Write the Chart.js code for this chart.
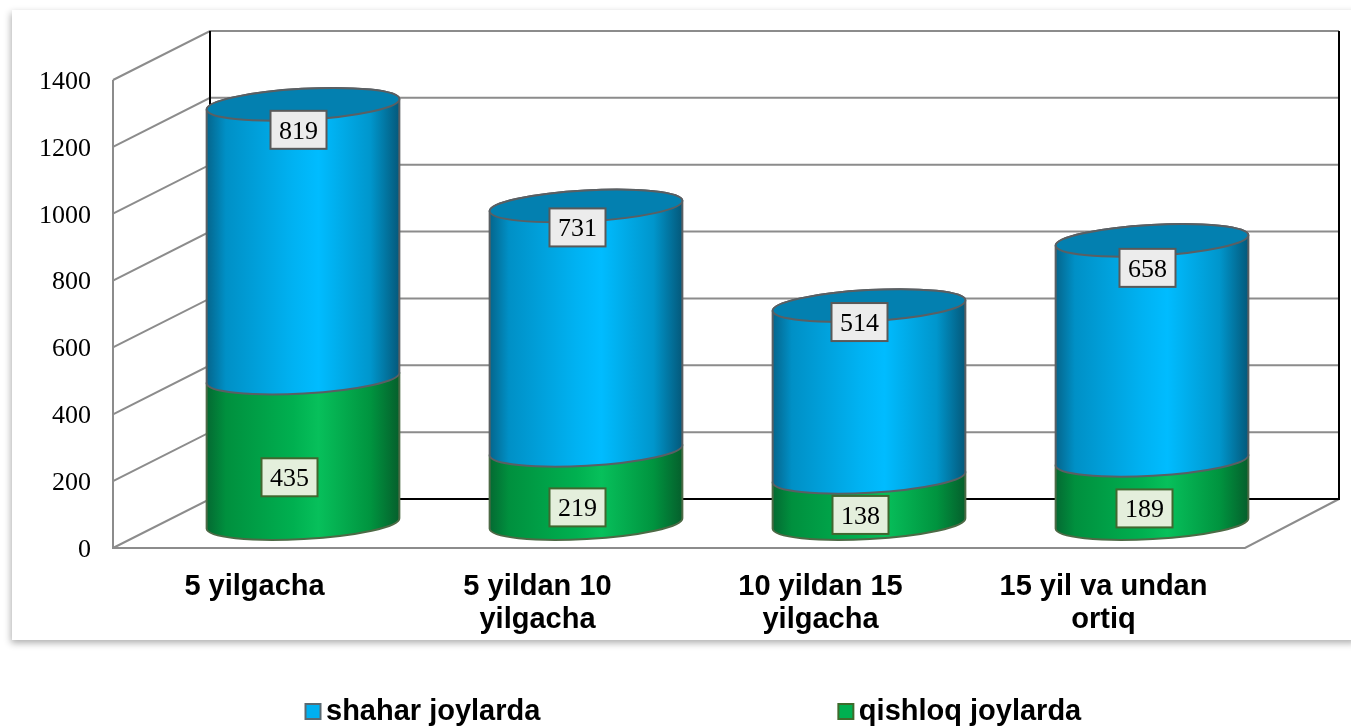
<!DOCTYPE html>
<html>
<head>
<meta charset="utf-8">
<title>Chart</title>
<script src="https://cdn.jsdelivr.net/npm/chart.js@4/dist/chart.umd.min.js"></script>
<style>
    html, body { margin: 0; padding: 0; background: #fff; }
    #wrap { position: relative; width: 1351px; height: 726px; overflow: hidden; }
    #card { position: absolute; left: 12px; top: 10px; width: 1345px; height: 630px; background: #fff;
        box-shadow: -1px 3px 7px rgba(0, 0, 0, 0.32); }
    canvas { position: absolute; left: 0; top: 0; }
</style>
</head>
<body>
<div id="wrap">
    <div id="card"></div>
    <canvas id="chart" width="1351" height="726"></canvas>
</div>
<script>
const categories = [['5 yilgacha'], ['5 yildan 10', 'yilgacha'], ['10 yildan 15', 'yilgacha'], ['15 yil va undan', 'ortiq']];
const qishloq = [435, 219, 138, 189];
const shahar = [819, 731, 514, 658];
const yTicksMax = 1400;
const yTickStep = 200;

// hand placed labels in the original, offsets from the bar anchor
const qishloqLabelNudge = [[35, 2], [40, -4], [40, -10], [41, -8]];
const shaharLabelNudge = [[44, 1], [40, -3], [39, -8], [44, 3]];

const DEPTH_X = 97;
const DEPTH_Y = -49;

const SERIF = '"Liberation Serif", serif';
const SANS = '"Liberation Sans", sans-serif';

const blueStops = [[0, '#05658c'], [0.1, '#0090c6'], [0.45, '#00b2f2'], [0.58, '#00bcff'], [0.85, '#0096cc'], [1, '#04587a']];
const greenStops = [[0, '#046a32'], [0.1, '#00903e'], [0.45, '#00b050'], [0.58, '#07c05b'], [0.85, '#00943f'], [1, '#055f2c']];

function cylinderPath(ctx, cx, topY, botY, rx, ry, rot) {
    ctx.beginPath();
    ctx.ellipse(cx, botY, rx, ry, rot, Math.PI, 0, true);
    ctx.ellipse(cx, topY, rx, ry, rot, 0, Math.PI, true);
    ctx.closePath();
}

function drawCylinder(ctx, bar, stops, edge, capColor) {
    const cx = bar.x + DEPTH_X / 2;
    const topY = bar.y + DEPTH_Y / 2;
    const botY = bar.base + DEPTH_Y / 2;
    const rx = bar.width / 2;
    const ry = 15.5;
    const rot = -0.055;

    const g = ctx.createLinearGradient(cx - rx, 0, cx + rx, 0);
    stops.forEach((s) => g.addColorStop(s[0], s[1]));

    ctx.save();
    cylinderPath(ctx, cx, topY, botY, rx, ry, rot);
    ctx.fillStyle = g;
    ctx.fill();
    ctx.lineWidth = 2;
    ctx.strokeStyle = edge;
    ctx.stroke();
    if (capColor) {
        ctx.beginPath();
        ctx.ellipse(cx, topY, rx, ry, rot, 0, Math.PI * 2);
        ctx.fillStyle = capColor;
        ctx.fill();
        ctx.stroke();
    }
    ctx.restore();
}

function drawValueBox(ctx, x, y, text, fill, edge) {
    ctx.save();
    ctx.fillStyle = fill;
    ctx.strokeStyle = edge;
    ctx.lineWidth = 2;
    ctx.fillRect(x - 28, y - 19, 56, 38);
    ctx.strokeRect(x - 28, y - 19, 56, 38);
    ctx.fillStyle = '#000';
    ctx.font = '26px ' + SERIF;
    ctx.textAlign = 'center';
    ctx.textBaseline = 'middle';
    ctx.fillText(text, x, y + 2);
    ctx.restore();
}

const cylinderPlugin = {
    id: 'cylinders',
    beforeInit(chart) {
        // the legend needs wide gaps between items, but not that much height
        const fit = chart.legend.fit;
        chart.legend.fit = function () {
            const max = this.maxWidth;
            this.maxWidth = 3000;
            fit.call(this);
            this.maxWidth = max;
            this.width = max;
            this.height = 70;
        };
    },
    afterLayout(chart) {
        const legend = chart.legend;
        const padding = legend.options.labels.padding;
        legend.left = 304.5 - padding;
        legend.right = 1600;
        legend.top = 697 - padding;
        legend.bottom = 726;
    },
    beforeDatasetsDraw(chart) {
        const { ctx, chartArea: area, scales } = chart;
        const y = scales.y;
        const backLeft = area.left + DEPTH_X;
        const backRight = 1339;

        ctx.save();
        ctx.lineWidth = 2;
        ctx.strokeStyle = '#8c8c8c';
        y.ticks.forEach((t) => {
            const py = y.getPixelForValue(t.value);
            ctx.beginPath();
            ctx.moveTo(area.left, py);
            ctx.lineTo(backLeft, py + DEPTH_Y);
            ctx.lineTo(backRight, py + DEPTH_Y);
            ctx.stroke();
        });
        ctx.beginPath();
        ctx.moveTo(area.left, area.top);
        ctx.lineTo(area.left, area.bottom);
        ctx.lineTo(area.right, area.bottom);
        ctx.lineTo(backRight, area.bottom + DEPTH_Y);
        ctx.stroke();

        ctx.strokeStyle = '#000';
        ctx.beginPath();
        ctx.moveTo(backLeft, area.top + DEPTH_Y);
        ctx.lineTo(backLeft, area.bottom + DEPTH_Y);
        ctx.lineTo(backRight, area.bottom + DEPTH_Y);
        ctx.lineTo(backRight, area.top + DEPTH_Y);
        ctx.stroke();
        ctx.restore();

        chart.getDatasetMeta(0).data.forEach((bar) => {
            drawCylinder(ctx, bar, greenStops, '#4c6a45', null);
        });
        chart.getDatasetMeta(1).data.forEach((bar) => {
            drawCylinder(ctx, bar, blueStops, '#5a5f63', '#0380b0');
        });
    },
    beforeDatasetDraw() {
        return false;
    },
    afterDatasetsDraw(chart) {
        const { ctx } = chart;
        chart.getDatasetMeta(0).data.forEach((bar, i) => {
            const n = qishloqLabelNudge[i];
            drawValueBox(ctx, bar.x + n[0], (bar.y + bar.base) / 2 + n[1], qishloq[i], '#e4efdc', '#41672f');
        });
        chart.getDatasetMeta(1).data.forEach((bar, i) => {
            const n = shaharLabelNudge[i];
            drawValueBox(ctx, bar.x + n[0], bar.y + n[1], shahar[i], '#ececec', '#595959');
        });
    },
    afterDraw(chart) {
        const { ctx, legend } = chart;
        const labels = legend.options.labels;
        const colors = [['#00b0f0', '#5a6a72'], ['#00b050', '#3f6b2c']];
        let x = legend.left + labels.padding;
        const y = legend.top + labels.padding + 7;
        ctx.save();
        ctx.lineWidth = 2;
        legend.legendItems.forEach((item, i) => {
            ctx.fillStyle = colors[i][0];
            ctx.strokeStyle = colors[i][1];
            ctx.fillRect(x + 1, y, 15, 15);
            ctx.strokeRect(x + 1, y, 15, 15);
            ctx.font = 'bold ' + labels.font.size + 'px ' + SANS;
            x += labels.boxWidth + labels.font.size / 2 + ctx.measureText(item.text).width + labels.padding;
        });
        ctx.restore();
    },
};

new Chart(document.getElementById('chart'), {
    type: 'bar',
    data: {
        labels: categories,
        datasets: [
            { label: 'qishloq joylarda', data: qishloq, backgroundColor: '#00b050' },
            { label: 'shahar joylarda', data: shahar, backgroundColor: '#00b0f0' },
        ],
    },
    options: {
        responsive: false,
        animation: false,
        layout: { padding: { left: 0, right: 106, top: 80, bottom: 0 } },
        datasets: { bar: { barPercentage: 0.682, categoryPercentage: 1 } },
        plugins: {
            tooltip: { enabled: false },
            legend: {
                position: 'bottom',
                align: 'start',
                reverse: true,
                labels: {
                    color: '#000',
                    boxWidth: 7,
                    boxHeight: 7,
                    padding: 297,
                    font: { family: SANS, size: 29, weight: 'bold' },
                    generateLabels(chart) {
                        return chart.data.datasets.map((d, i) => ({
                            text: d.label,
                            datasetIndex: i,
                            fillStyle: 'rgba(0,0,0,0)',
                            strokeStyle: 'rgba(0,0,0,0)',
                            lineWidth: 0,
                            fontColor: '#000',
                        }));
                    },
                },
            },
        },
        scales: {
            x: {
                stacked: true,
                grid: { display: false },
                border: { display: false },
                afterFit(scale) {
                    scale.height = 108;
                },
                ticks: {
                    color: '#000',
                    padding: 14,
                    maxRotation: 0,
                    autoSkip: false,
                    font: { family: SANS, size: 29, weight: 'bold', lineHeight: 1.15 },
                },
            },
            y: {
                stacked: true,
                min: 0,
                max: yTicksMax,
                grid: { display: false, drawTicks: false },
                border: { display: false },
                afterFit(scale) {
                    scale.width = 113;
                },
                ticks: {
                    stepSize: yTickStep,
                    color: '#000',
                    padding: 22,
                    labelOffset: 2,
                    font: { family: SERIF, size: 26 },
                    callback: (v) => String(v),
                },
            },
        },
    },
    plugins: [cylinderPlugin],
});
</script>
</body>
</html>
